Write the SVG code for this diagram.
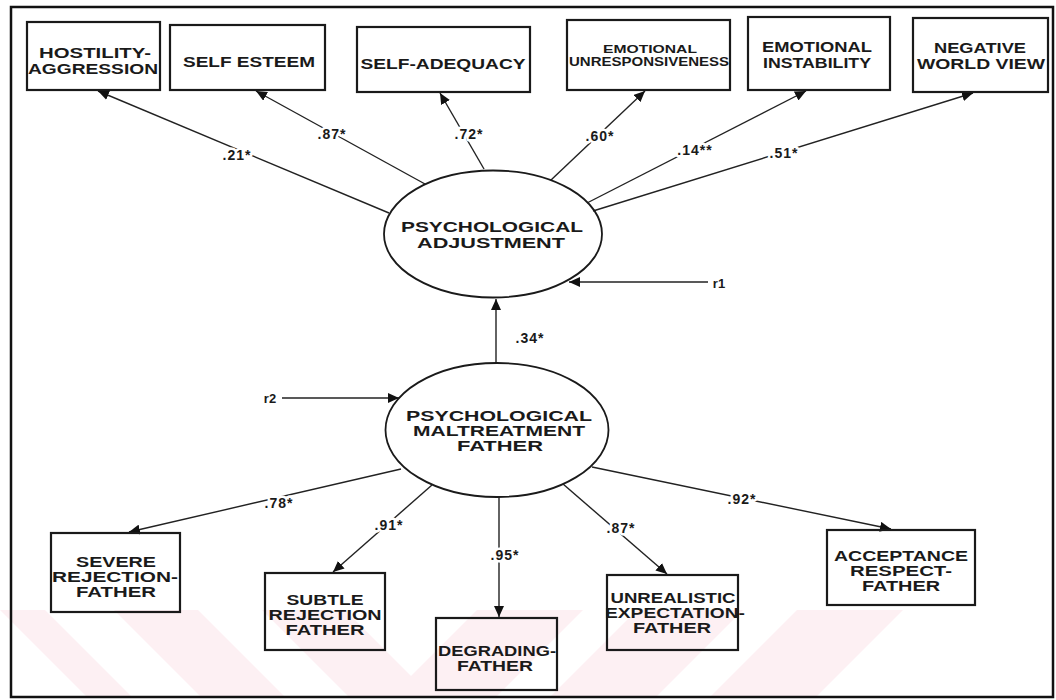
<svg xmlns="http://www.w3.org/2000/svg" width="1056" height="700" viewBox="0 0 1056 700">
<defs>
<marker id="ah" markerUnits="userSpaceOnUse" markerWidth="12" markerHeight="10" refX="11" refY="5" orient="auto">
<path d="M0,0 L11,5 L0,10 z" fill="#111"/>
</marker>
<style>
.box{fill:none;stroke:#1a1a1a;stroke-width:2.2}
.ell{fill:none;stroke:#1a1a1a;stroke-width:1.8}
.t{font-family:"Liberation Sans",Arial,sans-serif;font-weight:bold;font-size:14px;fill:#1a1a1a;text-anchor:middle}
.s{font-size:11px}
.lbl{font-family:"Liberation Sans",Arial,sans-serif;font-weight:bold;font-size:14px;fill:#1a1a1a;text-anchor:middle;letter-spacing:1px;stroke:#fff;stroke-width:5px;paint-order:stroke;stroke-linejoin:round}
.c{fill:none;stroke:#222;stroke-width:1.4;marker-end:url(#ah)}
.wm{fill:#fdf0f3}
</style>
</defs>
<rect width="1056" height="700" fill="#fff"/>
<g id="watermark">
<polygon class="wm" points="0,610 45,610 132,697 87,697"/>
<polygon class="wm" points="114,610 198,610 285,697 201,697"/>
<polygon class="wm" points="262,610 345,610 432,697 349,697"/>
<polygon class="wm" points="477,610 583,610 496,697 390,697"/>
<polygon class="wm" points="637,610 743,610 656,697 550,697"/>
<polygon class="wm" points="797,610 903,610 816,697 710,697"/>
</g>
<rect id="frame" x="11" y="7" width="1042" height="690" fill="none" stroke="#111" stroke-width="2.5"/>
<g id="connectors">
<line class="c" x1="389" y1="213" x2="98" y2="91"/>
<line class="c" x1="425" y1="184" x2="256" y2="91"/>
<line class="c" x1="484" y1="169" x2="440" y2="93"/>
<line class="c" x1="551" y1="180" x2="645" y2="91"/>
<line class="c" x1="587" y1="203" x2="806" y2="91"/>
<line class="c" x1="593" y1="211" x2="973" y2="93"/>
<line class="c" x1="708" y1="282" x2="569" y2="282"/>
<line class="c" x1="496" y1="363" x2="496" y2="299"/>
<line class="c" x1="282" y1="398" x2="399" y2="398"/>
<line class="c" x1="401" y1="469" x2="129" y2="532"/>
<line class="c" x1="432" y1="485" x2="333" y2="572"/>
<line class="c" x1="499" y1="497" x2="499" y2="617"/>
<line class="c" x1="563" y1="484" x2="667" y2="574"/>
<line class="c" x1="592" y1="467" x2="891" y2="529"/>
<text class="lbl" x="237" y="160">.21*</text>
<text class="lbl" x="332" y="139">.87*</text>
<text class="lbl" x="469" y="139">.72*</text>
<text class="lbl" x="600" y="141">.60*</text>
<text class="lbl" x="695" y="155">.14**</text>
<text class="lbl" x="784" y="158">.51*</text>
<text class="lbl" x="530" y="343">.34*</text>
<text class="lbl" x="279" y="508">.78*</text>
<text class="lbl" x="389" y="530">.91*</text>
<text class="lbl" x="505" y="560">.95*</text>
<text class="lbl" x="621" y="533">.87*</text>
<text class="lbl" x="742" y="504">.92*</text>
<text class="t" x="719" y="288" style="font-size:13px">r1</text>
<text class="t" x="270" y="403" style="font-size:13px">r2</text>
</g>
<g id="n-hostility">
<rect class="box" x="27" y="22" width="133" height="68"/>
<text class="t" x="95" y="58" style="font-size:15px" textLength="112" lengthAdjust="spacingAndGlyphs">HOSTILITY-</text>
<text class="t" x="93" y="74" style="font-size:15px" textLength="130" lengthAdjust="spacingAndGlyphs">AGGRESSION</text>
</g>
<g id="n-selfesteem">
<rect class="box" x="170" y="25" width="155" height="65"/>
<text class="t" x="249" y="67" style="font-size:15px" textLength="132" lengthAdjust="spacingAndGlyphs">SELF ESTEEM</text>
</g>
<g id="n-selfadequacy">
<rect class="box" x="357" y="27" width="173" height="65"/>
<text class="t" x="443" y="69" style="font-size:15px" textLength="165" lengthAdjust="spacingAndGlyphs">SELF-ADEQUACY</text>
</g>
<g id="n-unresponsiveness">
<rect class="box" x="567" y="20" width="163" height="70"/>
<text class="t s" x="650" y="53" textLength="94" lengthAdjust="spacingAndGlyphs">EMOTIONAL</text>
<text class="t" x="649" y="66" style="font-size:12px" textLength="160" lengthAdjust="spacingAndGlyphs">UNRESPONSIVENESS</text>
</g>
<g id="n-instability">
<rect class="box" x="748" y="17" width="142" height="73"/>
<text class="t" x="817" y="52" style="font-size:15px" textLength="110" lengthAdjust="spacingAndGlyphs">EMOTIONAL</text>
<text class="t" x="817" y="68" style="font-size:15px" textLength="108" lengthAdjust="spacingAndGlyphs">INSTABILITY</text>
</g>
<g id="n-worldview">
<rect class="box" x="913" y="18" width="135" height="74"/>
<text class="t" x="980" y="53" style="font-size:15px" textLength="92" lengthAdjust="spacingAndGlyphs">NEGATIVE</text>
<text class="t" x="981" y="69" style="font-size:15px" textLength="128" lengthAdjust="spacingAndGlyphs">WORLD VIEW</text>
</g>
<g id="n-adjustment">
<ellipse class="ell" cx="493" cy="234" rx="109" ry="63.5"/>
<text class="t" x="492" y="232" style="font-size:15px" textLength="182" lengthAdjust="spacingAndGlyphs">PSYCHOLOGICAL</text>
<text class="t" x="491" y="248" style="font-size:15px" textLength="148" lengthAdjust="spacingAndGlyphs">ADJUSTMENT</text>
</g>
<g id="n-maltreatment">
<ellipse class="ell" cx="497" cy="430" rx="111.5" ry="67"/>
<text class="t" x="499" y="421" textLength="186" lengthAdjust="spacingAndGlyphs">PSYCHOLOGICAL</text>
<text class="t" x="499" y="436" textLength="172" lengthAdjust="spacingAndGlyphs">MALTREATMENT</text>
<text class="t" x="500" y="451" textLength="86" lengthAdjust="spacingAndGlyphs">FATHER</text>
</g>
<g id="n-severe">
<rect class="box" x="51" y="533" width="129" height="79"/>
<text class="t" x="116" y="567" textLength="80" lengthAdjust="spacingAndGlyphs">SEVERE</text>
<text class="t" x="115" y="582" textLength="126" lengthAdjust="spacingAndGlyphs">REJECTION-</text>
<text class="t" x="116" y="597" textLength="80" lengthAdjust="spacingAndGlyphs">FATHER</text>
</g>
<g id="n-subtle">
<rect class="box" x="265" y="573" width="120" height="77"/>
<text class="t" x="325" y="605" textLength="77" lengthAdjust="spacingAndGlyphs">SUBTLE</text>
<text class="t" x="325" y="620" textLength="113" lengthAdjust="spacingAndGlyphs">REJECTION</text>
<text class="t" x="325" y="635" textLength="79" lengthAdjust="spacingAndGlyphs">FATHER</text>
</g>
<g id="n-degrading">
<rect class="box" x="436" y="618" width="121" height="72"/>
<text class="t" x="497" y="656" textLength="118" lengthAdjust="spacingAndGlyphs">DEGRADING-</text>
<text class="t" x="495" y="671" textLength="76" lengthAdjust="spacingAndGlyphs">FATHER</text>
</g>
<g id="n-unrealistic">
<rect class="box" x="607" y="575" width="131" height="75"/>
<text class="t" x="673" y="603" textLength="125" lengthAdjust="spacingAndGlyphs">UNREALISTIC</text>
<text class="t" x="675" y="618" textLength="140" lengthAdjust="spacingAndGlyphs">EXPECTATION-</text>
<text class="t" x="672" y="633" textLength="78" lengthAdjust="spacingAndGlyphs">FATHER</text>
</g>
<g id="n-acceptance">
<rect class="box" x="827" y="530" width="148" height="75"/>
<text class="t" x="901" y="561" textLength="134" lengthAdjust="spacingAndGlyphs">ACCEPTANCE</text>
<text class="t" x="901" y="576" textLength="102" lengthAdjust="spacingAndGlyphs">RESPECT-</text>
<text class="t" x="901" y="591" textLength="78" lengthAdjust="spacingAndGlyphs">FATHER</text>
</g>
</svg>
